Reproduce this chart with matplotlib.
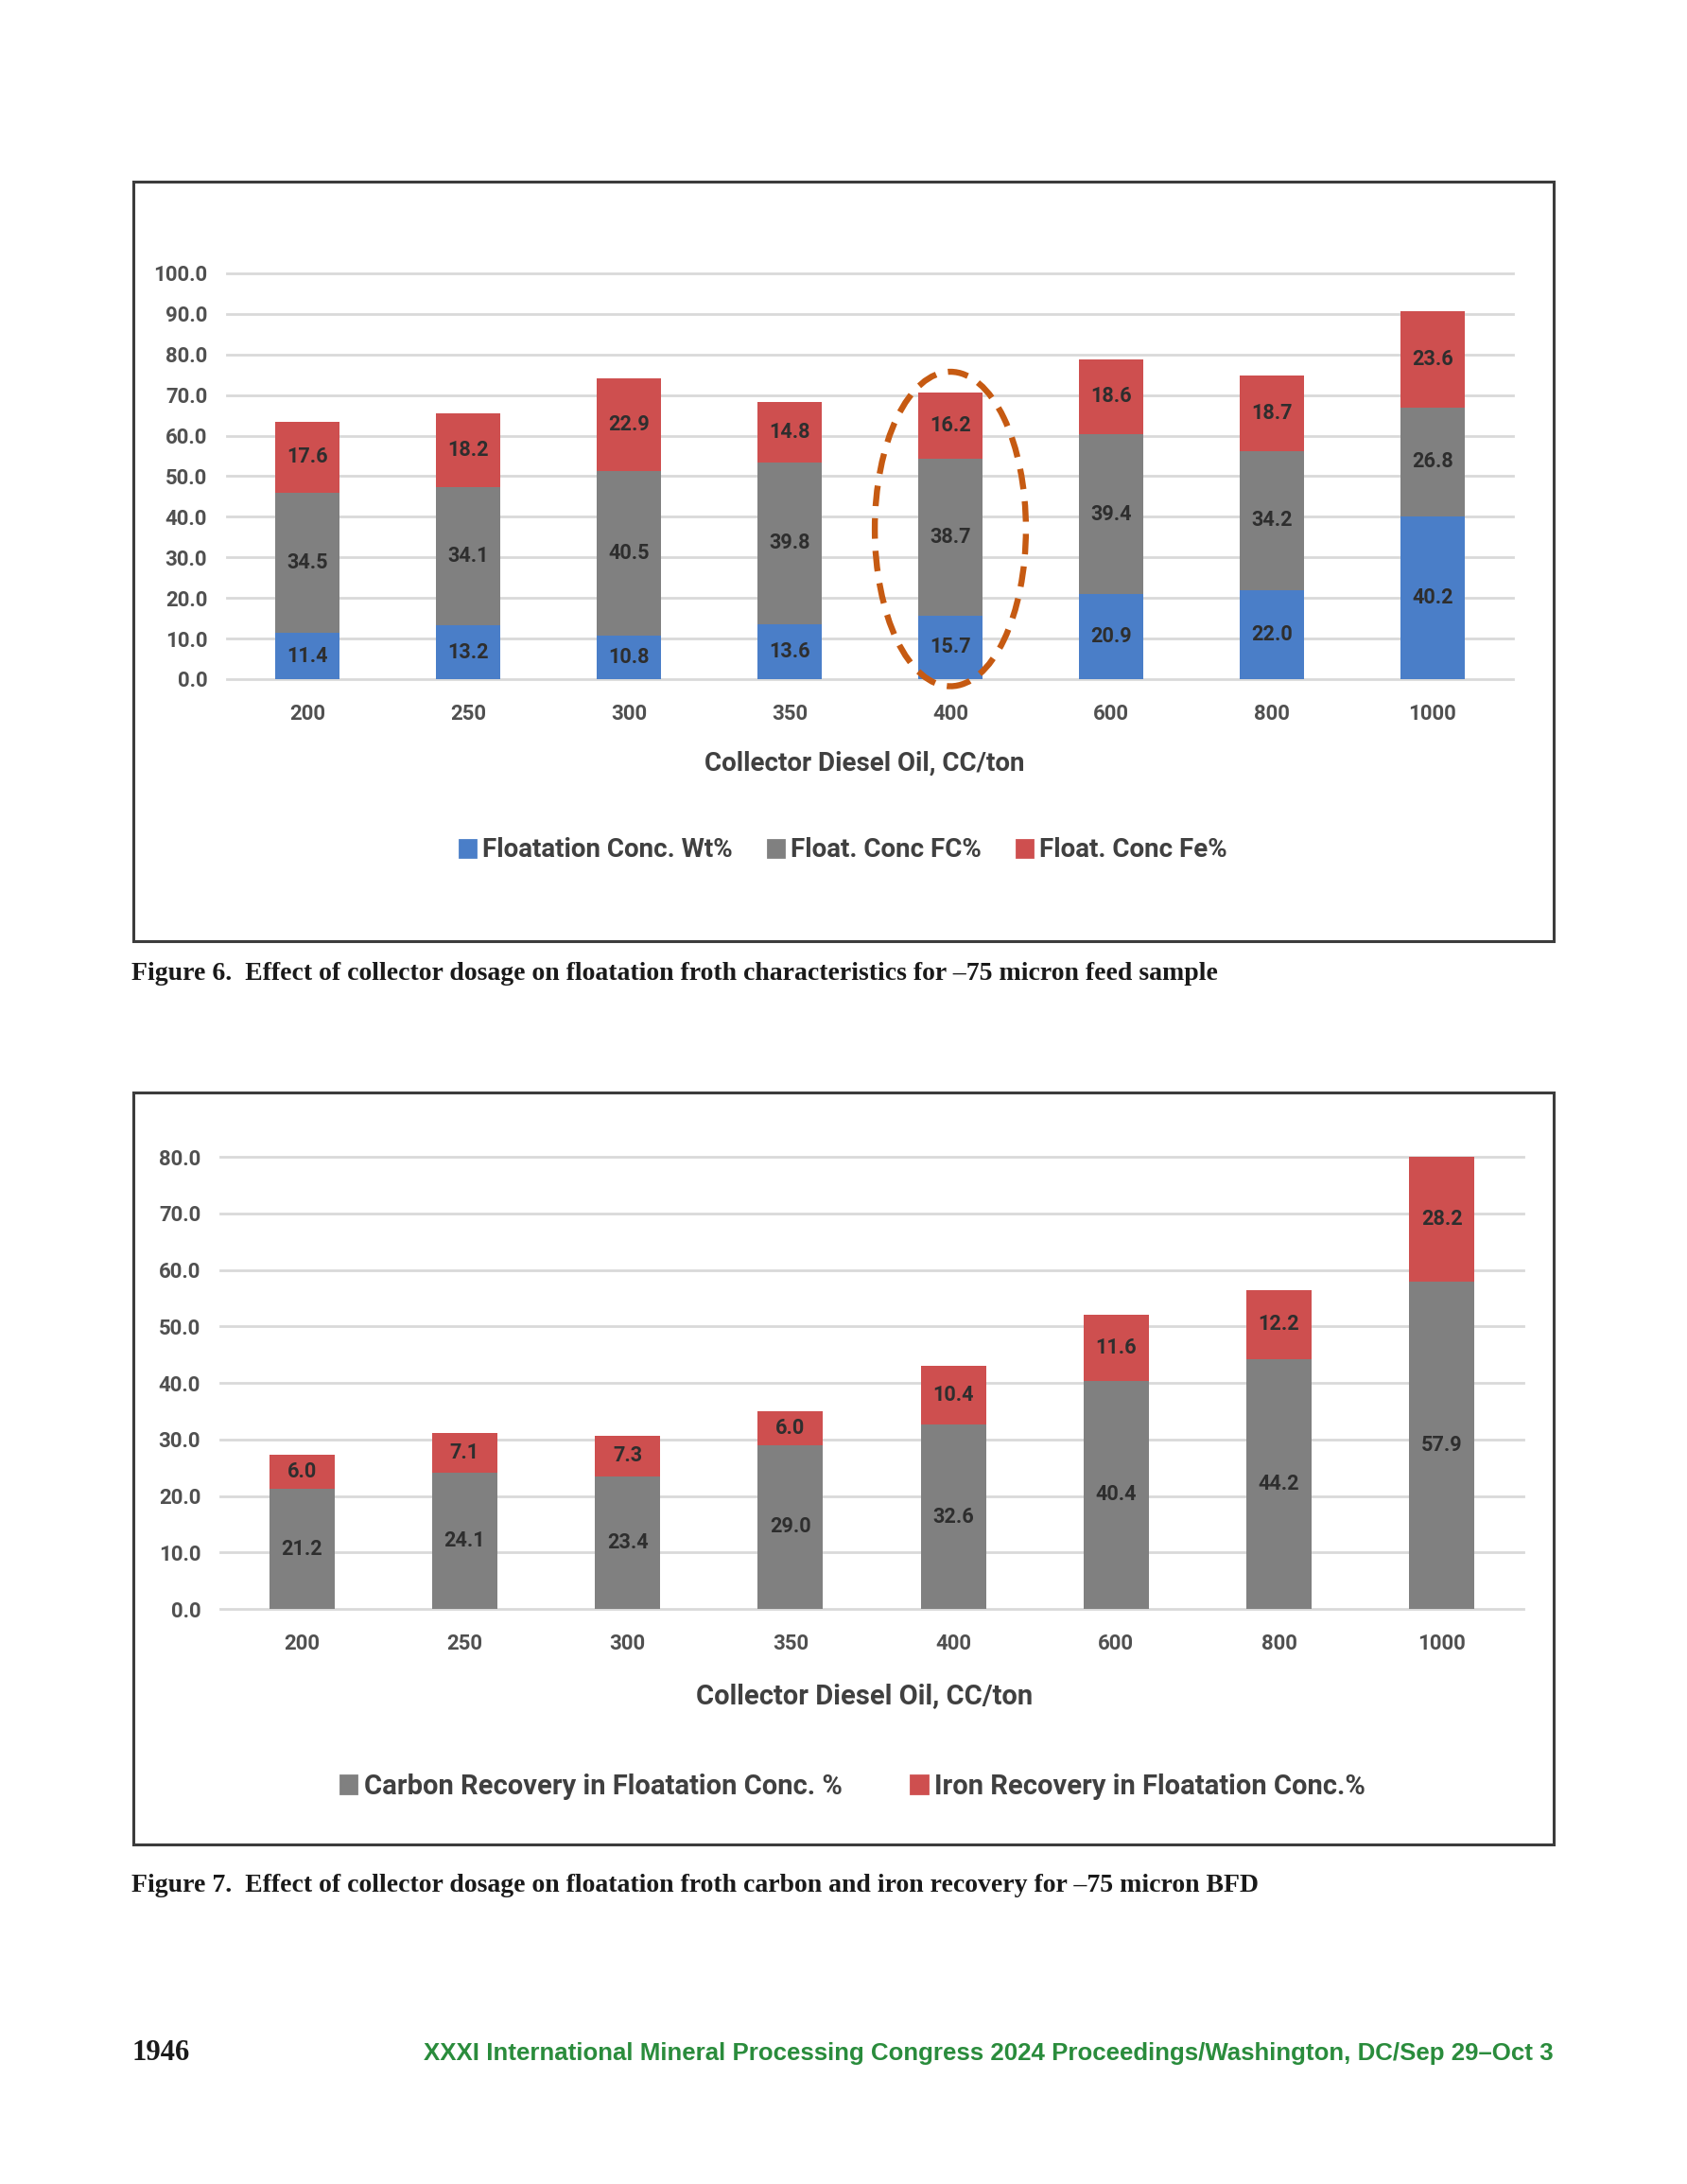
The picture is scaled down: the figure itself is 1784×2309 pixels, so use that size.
import matplotlib
matplotlib.use('Agg')
import matplotlib.pyplot as plt
from matplotlib.patches import Ellipse, Rectangle
from matplotlib import font_manager
import numpy as np

# data
dosage = ['200', '250', '300', '350', '400', '600', '800', '1000']
float_wt = [11.4, 13.2, 10.8, 13.6, 15.7, 20.9, 22.0, 40.2]
float_fc = [34.5, 34.1, 40.5, 39.8, 38.7, 39.4, 34.2, 26.8]
float_fe = [17.6, 18.2, 22.9, 14.8, 16.2, 18.6, 18.7, 23.6]
carbon_rec = [21.2, 24.1, 23.4, 29.0, 32.6, 40.4, 44.2, 57.9]
iron_rec = [6.0, 7.1, 7.3, 6.0, 10.4, 11.6, 12.2, 28.2]

blue = '#4A7EC8'
grey = '#808080'
red = '#CE4F4F'

names = {f.name for f in font_manager.fontManager.ttflist}
sans = 'Liberation Sans Narrow' if 'Liberation Sans Narrow' in names else 'Roboto'
plt.rcParams['font.family'] = [sans, 'DejaVu Sans']

W, H = 1784, 2309
fig = plt.figure(figsize=(W / 200, H / 200), dpi=200)


def px_axes(x0, y0, x1, y1):
    return fig.add_axes([x0 / W, 1 - y1 / H, (x1 - x0) / W, (y1 - y0) / H])


def stacked(ax, series, colors, ymax):
    x = np.arange(len(dosage))
    bottom = np.zeros(len(dosage))
    for vals, c in zip(series, colors):
        vals = np.array(vals)
        bars = ax.bar(x, vals, 0.4, bottom=bottom, color=c, zorder=2)
        ax.bar_label(bars, labels=[f'{v:.1f}' for v in vals], label_type='center',
                     fontsize=7.8, color='#2e2e2e', fontweight='bold')
        bottom += vals
    ax.set_xlim(-0.5, len(dosage) - 0.5)
    ax.set_ylim(0, ymax)
    ticks = np.arange(0, ymax + 1, 10)
    ax.set_yticks(ticks)
    ax.set_yticklabels([f'{t:.1f}' for t in ticks])
    ax.set_xticks(x)
    ax.set_xticklabels(dosage)
    for s in ax.spines.values():
        s.set_visible(False)
    ax.tick_params(length=0, labelsize=8, labelcolor='#505050')
    ax.tick_params(axis='y', pad=7.5)
    ax.tick_params(axis='x', pad=9.5)
    for lab in ax.get_xticklabels() + ax.get_yticklabels():
        lab.set_fontweight('bold')
    ax.yaxis.grid(True, color='#D9D9D9', lw=1.0, zorder=0)
    ax.set_axisbelow(True)
    for gl in ax.get_ygridlines():
        gl.set_clip_on(False)
    ax.set_facecolor('none')


def frame(y0, y1):
    fig.add_artist(Rectangle((141 / W, 1 - y1 / H), (1643 - 141) / W, (y1 - y0) / H,
                             transform=fig.transFigure, fill=False,
                             ec='#3c3c3c', lw=1.1))


# Figure 6
frame(192, 995)
ax1 = px_axes(240, 289, 1600, 718)
stacked(ax1, [float_wt, float_fc, float_fe], [blue, grey, red], 100)
ax1.add_patch(Ellipse((4, 37.0), 0.94, 77.5, fill=False, ec='#C65A12', lw=2.3,
                      ls=(0, (3.4, 2.0)), clip_on=False, zorder=5))
fig.text(914 / W, 1 - 807 / H, 'Collector Diesel Oil, CC/ton', ha='center', va='center',
         fontsize=10, color='#404040', fontweight='bold')
h1 = [Rectangle((0, 0), 1, 1, color=c) for c in [blue, grey, red]]
fig.legend(h1, ['Floatation Conc. Wt%', 'Float. Conc FC%', 'Float. Conc Fe%'],
           loc='center', bbox_to_anchor=(892 / W, 1 - 899 / H), ncol=3, frameon=False,
           prop={'size': 10, 'weight': 'bold'}, labelcolor='#404040',
           handlelength=0.6, handleheight=0.6, handletextpad=0.25, columnspacing=1.35)
fig.text(139 / W, 1 - 1029 / H,
         'Figure 6.  Effect of collector dosage on floatation froth characteristics for \u201375 micron feed sample',
         ha='left', va='center', fontsize=10, fontweight='bold', family='Liberation Serif', color='#1a1a1a')

# Figure 7
frame(1155, 1950)
ax2 = px_axes(233, 1223, 1611, 1701)
stacked(ax2, [carbon_rec, iron_rec], [grey, red], 80)
fig.text(914 / W, 1 - 1793 / H, 'Collector Diesel Oil, CC/ton', ha='center', va='center',
         fontsize=10.5, color='#404040', fontweight='bold')
h2 = [Rectangle((0, 0), 1, 1, color=c) for c in [grey, red]]
fig.legend(h2, ['Carbon Recovery in Floatation Conc. %', 'Iron Recovery in Floatation Conc.%'],
           loc='center', bbox_to_anchor=(902 / W, 1 - 1889 / H), ncol=2, frameon=False,
           prop={'size': 10.5, 'weight': 'bold'}, labelcolor='#404040',
           handlelength=0.6, handleheight=0.6, handletextpad=0.25, columnspacing=2.5)
fig.text(139 / W, 1 - 1993 / H,
         'Figure 7.  Effect of collector dosage on floatation froth carbon and iron recovery for \u201375 micron BFD',
         ha='left', va='center', fontsize=10, fontweight='bold', family='Liberation Serif', color='#1a1a1a')

# page footer
fig.text(139 / W, 1 - 2171 / H, '1946', ha='left', va='center', fontsize=11,
         fontweight='bold', family='Liberation Serif', color='#1a1a1a')
fig.text(1643 / W, 1 - 2171 / H,
         'XXXI International Mineral Processing Congress 2024 Proceedings/Washington, DC/Sep 29\u2013Oct 3',
         ha='right', va='center', fontsize=9.3, fontweight='bold', family='Liberation Sans',
         color='#2A8C3C')

fig.savefig('out.png', dpi=200, facecolor='white')
